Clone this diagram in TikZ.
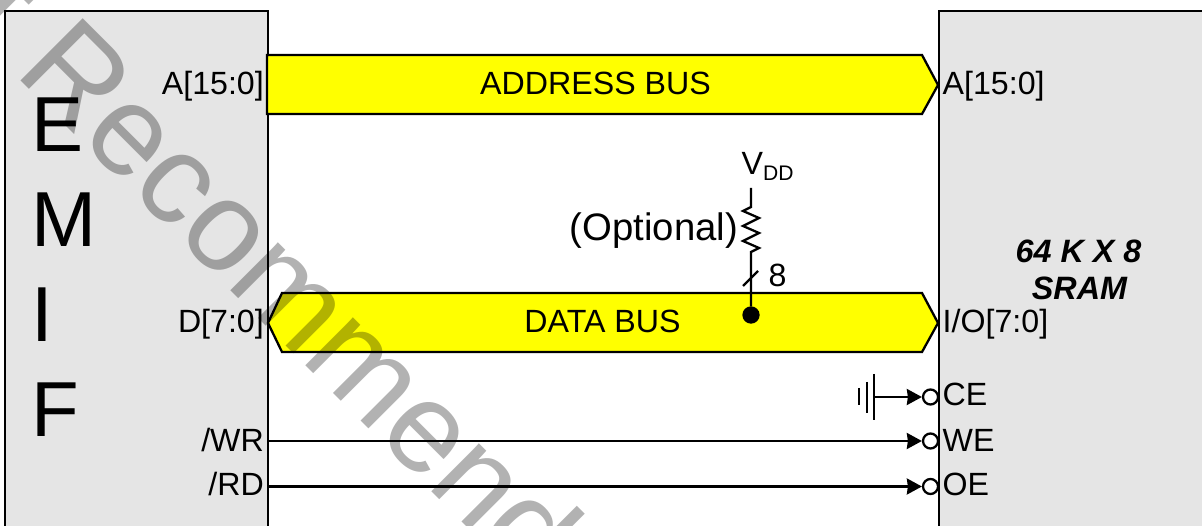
\documentclass[tikz,border=0pt]{standalone}
\usepackage{fontspec}
\setmainfont{Liberation Sans}
\usetikzlibrary{arrows.meta}
\definecolor{cbox}{HTML}{E5E5E5}
\definecolor{cbus}{HTML}{FFFF00}
\definecolor{cwm}{HTML}{B2B2B2}
\tikzset{
  wire/.style={line width=0.65pt},
  chipbox/.style={draw,wire,fill=cbox,rectangle,inner sep=0pt,anchor=north west},
  busbody/.style={draw,wire,fill=cbus},
  sigtxt/.style={inner sep=0pt,font=\fontsize{9.15pt}{11pt}\selectfont},
  chiptxt/.style={inner sep=0pt,anchor=base west,font=\fontsize{22.2pt}{26pt}\selectfont},
  sramtxt/.style={anchor=base,inner sep=0pt,font=\bfseries\itshape\fontsize{9.2pt}{11pt}\selectfont},
  pinbubble/.style={draw,wire,fill=white,circle,inner sep=0pt,minimum size=0.15cm},
}
\begin{document}
\begin{tikzpicture}[>={Stealth[length=0.15cm,width=0.16cm,inset=0.01cm]}]
  \clip (0,0) rectangle (12.02,5.26);
  \node[chipbox,minimum width=2.63cm,minimum height=5.8cm] (emif) at (0.04,5.16) {};
  \node[chipbox,minimum width=3.2cm,minimum height=5.8cm] (sram) at (9.38,5.16) {};
  \draw[busbody] (2.67,4.71) -- (9.22,4.71) -- (9.38,4.41) -- (9.22,4.12) -- (2.67,4.12) -- cycle;
  \draw[busbody] (2.82,2.33) -- (9.22,2.33) -- (9.38,2.03) -- (9.22,1.74) -- (2.82,1.74) -- (2.68,2.03) -- cycle;
  \node[sigtxt,anchor=base] (abus) at (5.955,4.31) {ADDRESS BUS};
  \node[sigtxt,anchor=base] (dbus) at (6.025,1.93) {DATA BUS};
  \foreach \y/\n/\t in {3.745/le/E,2.795/lm/M,1.845/li/I,0.89/lf/F} {
    \node[chiptxt] (\n) at (0.31,\y) {\t};
  }
  \foreach \y/\n/\t in {4.31/pa/A[15:0],1.93/pd/D[7:0],0.745/pw/{/WR},0.305/pr/{/RD}} {
    \node[sigtxt,anchor=base east] (\n) at (2.645,\y) {\t};
  }
  \foreach \y/\n/\t in {4.31/qa/A[15:0],1.93/qd/{I/O[7:0]},1.20/qc/CE,0.745/qw/WE,0.305/qo/OE} {
    \node[sigtxt,anchor=base west] (\n) at (9.42,\y) {\t};
  }
  \node[sramtxt] (sizetxt) at (10.785,2.63) {64 K X 8};
  \node[sramtxt] (typetxt) at (10.795,2.26) {SRAM};
  \node[sigtxt,anchor=base west] (vdd) at (7.41,3.51) {V\raisebox{-0.06cm}{\fontsize{6pt}{7pt}\selectfont DD}};
  \node[anchor=base west,inner sep=0pt,font=\fontsize{10.9pt}{13pt}\selectfont] (opt) at (5.69,2.85) {(Optional)};
  \node[sigtxt,anchor=base west] (width) at (7.68,2.39) {8};
  \node[draw,wire,fill=black,circle,inner sep=0pt,minimum size=0.15cm] (tap) at (7.51,2.11) {};
  \coordinate (vcc) at (7.51,3.38);
  \draw[wire] (vcc) -- (7.51,3.19) -- (7.43,3.15) -- (7.59,3.08) -- (7.43,3.00) -- (7.59,2.93) -- (7.43,2.85) -- (7.59,2.78) -- (7.51,2.74) -- (tap);
  \draw[wire] (7.43,2.40) -- (7.58,2.55);
  \foreach \y/\n in {1.29/bc,0.85/bw,0.395/bo} {
    \node[pinbubble] (\n) at (9.305,\y) {};
  }
  \coordinate (gnd) at (8.74,1.29);
  \coordinate (wrpin) at (2.67,0.85);
  \coordinate (rdpin) at (2.67,0.395);
  \draw[wire,->] (gnd) -- (bc);
  \draw[wire,->] (wrpin) -- (bw);
  \draw[wire,->] (rdpin) -- (bo);
  \draw[wire] (8.74,1.52) -- (8.74,1.06);
  \draw[wire] (8.67,1.44) -- (8.67,1.13);
  \draw[wire] (8.59,1.38) -- (8.59,1.21);
  \begin{scope}[blend mode=multiply]
    \node[cwm,inner sep=0pt,anchor=base west,rotate=-45,font=\fontsize{36.4pt}{40pt}\selectfont] (mark) at (-1.53,6.19) {Not Recommended};
  \end{scope}
\end{tikzpicture}
\end{document}
